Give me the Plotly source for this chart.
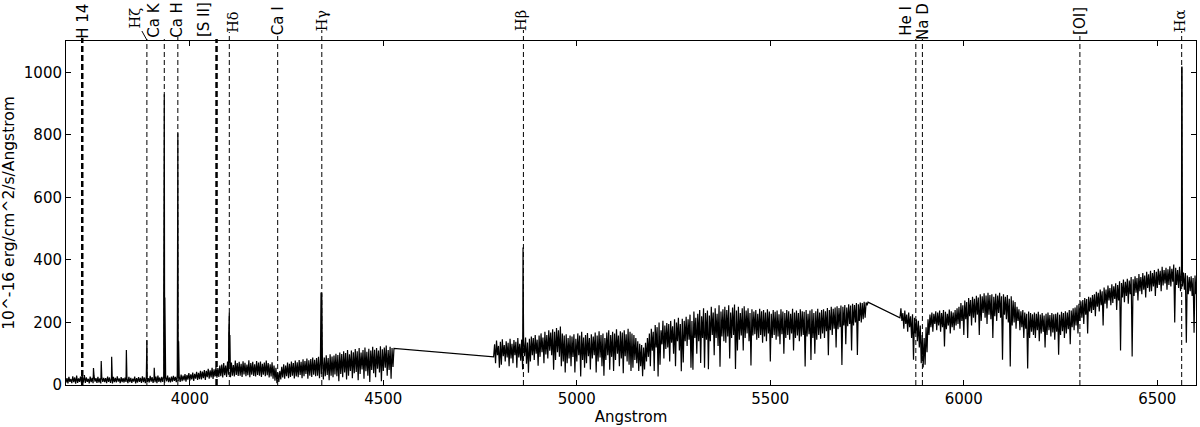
"""
Optical spectrum with identified emission / absorption lines.
"""

import numpy as np
import plotly.graph_objects as go

# ── Spectrum ─────────────────────────────────────────────────────────
# Three chunks on a 5 Angstrom grid; for every bin the highest and the
# lowest flux seen in that bin (the straight bridges between chunks come
# from the line joining the last and first points).
GRID_STEP = 5

BLUE_START = 3680
BLUE_HI = [
    22, 26, 19, 28, 24, 30, 21, 27, 25, 32,
    24, 20, 27, 23, 29, 22, 26, 21, 25, 23,
    22, 27, 24, 20, 26, 23, 28, 21, 25, 22,
    24, 21, 26, 23, 20, 27, 22, 25, 23, 28,
    24, 26, 22, 29, 25, 23, 27, 30, 24, 26,
    28, 25, 30, 24, 27, 29, 26, 31, 28, 33,
    30, 35, 32, 38, 34, 40, 36, 42, 39, 45,
    43, 48, 45, 52, 47, 55, 50, 58, 54, 62,
    65, 70, 62, 75, 68, 72, 64, 78, 70, 74,
    68, 76, 71, 65, 79, 70, 74, 66, 77, 72,
    75, 68, 72, 78, 70, 66, 73, 62, 55, 40,
    45, 58, 66, 62, 72, 68, 75, 70, 78, 73,
    80, 74, 82, 77, 85, 79, 83, 88, 81, 86,
    90, 84, 92, 88, 95, 86, 98, 91, 94, 100,
    96, 104, 99, 108, 102, 112, 98, 110, 105, 115,
    108, 118, 104, 112, 120, 106, 116, 110, 122, 113,
    118, 110, 124, 114, 120, 126, 112, 122, 118, 117,
]
BLUE_LO = [
    8, 5, 10, 6, 9, 4, 7, 10, 6, 8,
    7, 10, 5, 9, 6, 11, 7, 8, 5, 10,
    9, 6, 10, 7, 5, 9, 8, 11, 6, 9,
    8, 10, 6, 9, 7, 11, 5, 8, 10, 7,
    9, 6, 10, 8, 11, 7, 9, 6, 10, 8,
    10, 7, 12, 9, 8, 11, 13, 9, 12, 10,
    12, 15, 11, 17, 14, 18, 13, 20, 16, 19,
    18, 22, 16, 25, 20, 24, 19, 27, 23, 26,
    28, 24, 31, 26, 33, 25, 30, 27, 32, 29,
    30, 26, 34, 28, 31, 25, 33, 29, 27, 32,
    30, 26, 33, 28, 31, 24, 27, 20, 14, 6,
    10, 18, 24, 20, 28, 22, 26, 30, 21, 27,
    25, 32, 22, 28, 35, 20, 30, 26, 33, 28,
    30, 22, 35, 18, 28, 32, 15, 30, 25, 34,
    28, 12, 35, 25, 40, 18, 30, 45, 22, 38,
    42, 15, 35, 50, 20, 44, 30, 10, 48, 38,
    25, 52, 40, 12, 45, 55, 30, 48, 20, 58,
]

GREEN_START = 4785
GREEN_HI = [
    130, 142, 125, 138, 146, 128, 140, 135, 148, 132,
    144, 138, 150, 132, 145, 140, 152, 136, 148, 155,
    150, 160, 145, 158, 165, 152, 170, 160, 175, 168,
    178, 170, 182, 175, 187, 165, 158, 162, 150, 158,
    155, 162, 148, 165, 158, 170, 152, 160, 166, 150,
    162, 155, 168, 158, 172, 160, 165, 150, 168, 175,
    160, 170, 165, 178, 158, 172, 168, 175, 162, 180,
    170, 165, 160, 150, 140, 132, 128, 120, 135, 150,
    165, 180, 170, 192, 185, 200, 175, 205, 190, 198,
    195, 205, 188, 210, 200, 215, 195, 212, 205, 218,
    210, 225, 205, 235, 215, 228, 240, 220, 245, 230,
    238, 222, 250, 232, 245, 228, 255, 235, 242, 250,
    240, 255, 232, 248, 257, 238, 250, 230, 245, 252,
    238, 245, 230, 242, 235, 240, 228, 244, 236, 240,
    232, 242, 235, 228, 240, 234, 238, 226, 242, 235,
    230, 240, 236, 228, 244, 232, 238, 230, 242, 236,
    234, 240, 228, 238, 242, 230, 236, 244, 232, 240,
    242, 236, 246, 240, 250, 244, 248, 252, 246, 254,
    250, 256, 248, 258, 254, 260, 256, 262, 258, 264,
    262, 266, 264, 265,
]
GREEN_LO = [
    90, 70, 95, 55, 65, 92, 75, 88, 60, 85,
    70, 95, 55, 88, 78, 50, 92, 68, 39, 75,
    95, 80, 100, 62, 90, 105, 70, 98, 85, 110,
    95, 49, 80, 105, 90, 60, 75, 40, 70, 85,
    60, 90, 40, 75, 95, 27, 80, 55, 70, 92,
    50, 85, 95, 40, 75, 88, 60, 30, 80, 95,
    49, 90, 45, 80, 100, 60, 85, 38, 92, 75,
    65, 45, 55, 80, 70, 45, 60, 28, 50, 75,
    90, 60, 110, 45, 120, 27, 65, 130, 85, 115,
    120, 75, 135, 100, 60, 140, 110, 44, 72, 140,
    125, 145, 55, 49, 150, 100, 140, 70, 150, 55,
    145, 50, 140, 160, 95, 150, 125, 58, 155, 140,
    135, 155, 85, 150, 160, 51, 110, 145, 158, 110,
    150, 165, 140, 62, 158, 162, 145, 150, 160, 135,
    155, 140, 165, 75, 150, 160, 145, 155, 130, 162,
    100, 150, 160, 145, 165, 110, 150, 158, 140, 155,
    160, 59, 155, 162, 80, 150, 100, 145, 160, 148,
    165, 150, 172, 95, 175, 160, 180, 120, 178, 185,
    64, 190, 130, 188, 195, 110, 190, 200, 96, 205,
    200, 210, 215, 255,
]

RED_START = 5835
RED_HI = [
    245, 230, 238, 225, 232, 220, 226, 215, 210, 205,
    190, 160, 150, 185, 210, 225, 232, 228, 236, 232,
    238, 230, 240, 234, 228, 241, 236, 232, 240, 245,
    250, 262, 255, 270, 265, 278, 272, 282, 276, 285,
    280, 290, 284, 293, 286, 295, 288, 290, 282, 292,
    286, 295, 284, 290, 282, 288, 276, 284, 270, 265,
    250, 242, 236, 240, 232, 228, 235, 230, 226, 232,
    228, 234, 225, 230, 222, 228, 232, 224, 230, 226,
    228, 232, 225, 234, 230, 236, 232, 240, 238, 245,
    248, 255, 260, 268, 272, 278, 275, 282, 280, 288,
    290, 298, 295, 305, 300, 312, 305, 318, 310, 322,
    316, 325, 320, 332, 326, 337, 330, 340, 334, 345,
    338, 348, 342, 355, 345, 358, 350, 362, 354, 365,
    358, 368, 362, 372, 365, 378, 368, 375, 370, 380,
    372, 385, 375, 368, 378, 372, 360, 358, 350, 345,
    348, 342, 350, 346,
]
RED_LO = [
    215, 205, 180, 195, 170, 185, 150, 81, 165, 140,
    120, 70, 56, 65, 105, 160, 185, 170, 195, 175,
    190, 170, 185, 123, 178, 190, 165, 185, 175, 190,
    195, 180, 205, 160, 210, 150, 220, 190, 215, 200,
    225, 160, 205, 230, 215, 195, 225, 210, 150, 220,
    205, 230, 215, 81, 225, 210, 200, 59, 190, 200,
    180, 205, 175, 185, 150, 180, 53, 150, 170, 160,
    150, 175, 140, 165, 170, 120, 160, 175, 155, 168,
    145, 170, 97, 160, 172, 150, 165, 178, 130, 185,
    175, 190, 165, 205, 215, 195, 225, 165, 235, 230,
    240, 220, 250, 235, 255, 190, 260, 245, 270, 255,
    262, 275, 240, 270, 110, 280, 265, 285, 260, 290,
    91, 285, 295, 270, 300, 290, 305, 280, 310, 298,
    300, 315, 285, 310, 320, 300, 318, 325, 305, 320,
    315, 330, 200, 320, 310, 300, 315, 305, 135, 290,
    300, 285, 167, 290,
]

# narrow emission peaks sitting on top of the continuum
EMISSION_WAVE = [3722, 3751, 3771, 3798, 3836, 3889, 3908, 3932.5, 3934, 3935.5,
                 3968, 3969, 3971, 4100.5, 4102, 4103.5, 4339, 4341, 4861, 6563, 6564]
EMISSION_FLUX = [40, 54, 77, 90, 112, 143, 55, 285, 930, 280,
                 145, 805, 140, 165, 231, 160, 296, 293, 440, 1018, 1016]

# ── Line identifications ──────────────────────────────────────────────
LINE_NAMES = ["H 14", "Hζ", "Ca K", "Ca H", "[S II]", "Hδ", "Ca I", "Hγ",
              "Hβ", "He I", "Na D", "[OI]", "Hα"]
LINE_WAVES = [3722, 3889, 3934, 3969, 4069, 4102, 4227, 4341,
              4862, 5876, 5893, 6300, 6563]

THICK = {"H 14", "[S II]"}
# label placement tweaks (px): horizontal shift, gap above the frame
LABEL_DX = {"Hζ": -12, "Ca K": -11, "Ca H": -1, "[S II]": -13, "Hδ": 3,
            "Hβ": -3, "He I": -10, "Hα": -2}
LABEL_DY = {"H 14": 3, "Hζ": 14, "Ca K": 4, "Ca H": 4, "[S II]": 5, "Hδ": 9,
            "Ca I": 7, "Hγ": 11, "Hβ": 11, "He I": 6, "Na D": 2, "[OI]": 7,
            "Hα": 10}

W, H = 1200, 427
MARGIN = dict(l=66, r=4, t=41, b=42)
PLOT_H = H - MARGIN["t"] - MARGIN["b"]
SANS = "DejaVu Sans"
SERIF = "DejaVu Serif"


def chunk(start, hi, lo):
    """Each bin: lowest point, then highest point half a step later."""
    lam = start + GRID_STEP * np.arange(len(hi))
    x = np.column_stack([lam, lam + GRID_STEP / 2]).ravel()
    y = np.column_stack([lo, hi]).ravel().astype(float)
    return x, y


parts = [chunk(BLUE_START, BLUE_HI, BLUE_LO),
         chunk(GREEN_START, GREEN_HI, GREEN_LO),
         chunk(RED_START, RED_HI, RED_LO),
         (np.asarray(EMISSION_WAVE, float), np.asarray(EMISSION_FLUX, float))]
wave = np.concatenate([p[0] for p in parts])
flux = np.concatenate([p[1] for p in parts])
order = np.argsort(wave, kind="stable")

fig = go.Figure(go.Scatter(
    x=wave[order], y=flux[order], mode="lines",
    line=dict(color="black", width=1.2), hoverinfo="skip", showlegend=False,
))

for name, lam in zip(LINE_NAMES, LINE_WAVES):
    thick = name in THICK
    shifted = abs(LABEL_DX.get(name, 0)) > 5
    top_px = 2 if shifted else LABEL_DY[name]
    fig.add_shape(
        type="line", xref="x", yref="paper", x0=lam, x1=lam,
        y0=0, y1=1 + top_px / PLOT_H,
        line=dict(color="black", width=2.5 if thick else 1,
                  dash="6px,3px" if thick else "5px,3px"),
    )
    greek = name.startswith("H") and len(name) == 2
    fig.add_annotation(
        x=lam, xref="x", y=1, yref="paper", text=name, showarrow=False,
        textangle=-90, xanchor="center", yanchor="bottom",
        xshift=LABEL_DX.get(name, 0), yshift=LABEL_DY[name] - 2,
        font=dict(family=SERIF if greek else SANS, size=14.5 if greek else 15,
                  color="black"),
        borderpad=0,
    )

# small leader from the Hζ label to its line
fig.add_shape(
    type="line", xref="x", yref="paper", xsizemode="pixel", ysizemode="pixel",
    xanchor=3889, yanchor=1, x0=0, y0=1, x1=-5, y1=10,
    line=dict(color="black", width=1),
)

axis_common = dict(
    showline=True, linecolor="black", linewidth=1, mirror="ticks",
    ticks="inside", ticklen=5, tickcolor="black", tickwidth=1,
    showgrid=False, zeroline=False, automargin=False,
    tickfont=dict(family=SANS, size=15, color="black"),
)

fig.update_layout(
    width=W, height=H, margin=MARGIN,
    paper_bgcolor="white", plot_bgcolor="white",
    font=dict(family=SANS, size=15, color="black"),
    xaxis=dict(range=[3680, 6600], dtick=500, tick0=4000,
               title=dict(text="Angstrom", standoff=4,
                          font=dict(family=SANS, size=15)),
               **axis_common),
    yaxis=dict(range=[0, 1100], dtick=200,
               title=dict(text="10^-16 erg/cm^2/s/Angstrom", standoff=6,
                          font=dict(family=SANS, size=15.5)),
               **axis_common),
)

# the page's default body margin would push the figure off the window
fig.write_html("out.html", config={"displayModeBar": False},
               post_script="document.body.style.margin='0';")
